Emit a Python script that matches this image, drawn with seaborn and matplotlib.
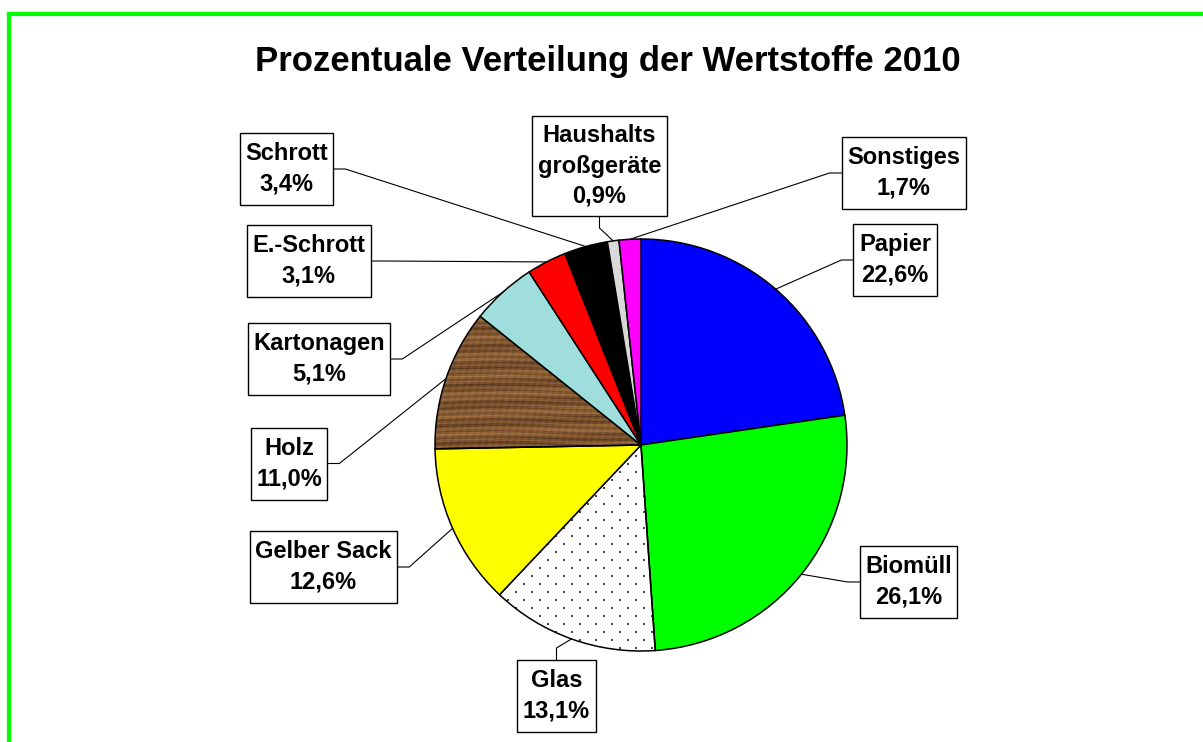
import numpy as np
import matplotlib
matplotlib.use("Agg")
import matplotlib.pyplot as plt
import seaborn as sns
from matplotlib.path import Path

# ---------------- data ----------------
title = "Prozentuale Verteilung der Wertstoffe 2010"
categories = ["Papier", "Biomüll", "Glas", "Gelber Sack", "Holz", "Kartonagen",
              "E.-Schrott", "Schrott", "Haushalts\ngroßgeräte", "Sonstiges"]
shares = [22.6, 26.1, 13.1, 12.6, 11.0, 5.1, 3.1, 3.4, 0.9, 1.7]
value_labels = ["22,6%", "26,1%", "13,1%", "12,6%", "11,0%", "5,1%",
                "3,1%", "3,4%", "0,9%", "1,7%"]
colors = ["#0000FF", "#00FF00", "#FFFFFF", "#FFFF00", "#8B5A2B", "#A0DEDE",
          "#FF0000", "#000000", "#D9D9D9", "#FF00FF"]

# label box layout (pixel positions, top-left origin) and leader side
box_x = [895, 908.5, 556.5, 323.5, 289, 319, 308.5, 286.5, 599.5, 903.5]
box_y = [260, 582, 696, 567, 463.5, 359, 261, 169, 166, 173]
sides = ["left", "left", "top", "right", "right", "right", "right", "right", "bottom", "left"]

W, H = 1203, 742
sns.set_theme(style="white")
plt.rcParams["font.family"] = ["Liberation Sans", "DejaVu Sans"]
plt.rcParams["text.color"] = "black"

fig = plt.figure(figsize=(W / 100, H / 100), dpi=100)
ax = fig.add_axes([0, 0, 1, 1])

cx, cy, R = 641, H - 445, 206
wedges, _ = ax.pie(shares, colors=colors, startangle=90, counterclock=False,
                   center=(cx, cy), radius=R,
                   wedgeprops=dict(edgecolor="black", linewidth=1.1))

n_px = 2 * R
yy, xx = np.mgrid[0:n_px, 0:n_px]

# Glas: dotted pattern (image clipped to the wedge)
glas = wedges[2]
glas.set_facecolor("none")
row = (yy // 8)
dots = ((yy % 8) < 2) & (((xx + (row % 2) * 8) % 16) < 2)
dot_img = np.ones((n_px, n_px, 3))
dot_img[dots] = np.array([70, 70, 70]) / 255
im_g = ax.imshow(dot_img, extent=(cx - R, cx + R, cy - R, cy + R), zorder=0.9,
                 interpolation="nearest", origin="upper")
im_g.set_clip_path(glas)

# Holz: wood-like grain texture clipped to the wedge
holz = wedges[4]
holz.set_facecolor("none")
yf, xf = yy.astype(float), xx.astype(float)
g = (0.5 + 0.20 * np.sin(yf * 1.1 + 1.8 * np.sin(xf * 0.027) + 0.6 * np.sin(yf * 0.05))
     + 0.15 * np.sin(yf * 0.33 + xf * 0.012)
     + 0.10 * np.sin(yf * 2.7 + xf * 0.07 + np.sin(xf * 0.11))
     + 0.06 * np.sin(xf * 0.9 + yf * 0.2))
g = np.clip(g, 0, 1)
dark = np.array([85, 52, 28]) / 255
light = np.array([170, 120, 70]) / 255
img = dark + (light - dark) * g[..., None]
im = ax.imshow(img, extent=(cx - R, cx + R, cy - R, cy + R), zorder=0.9,
               interpolation="bilinear", origin="upper")
im.set_clip_path(holz)

ax.set_xlim(0, W)
ax.set_ylim(0, H)
ax.set_aspect("auto")
ax.axis("off")

# title
ax.text(608, H - 61, title, ha="center", va="center", fontsize=25,
        fontweight="bold", color="black")


def make_box(n):
    def box(x0, y0, width, height, mutation_size):
        padx = 5.5
        target = 28 * n + 16
        pady = (target - height) / 2
        x0 -= padx
        y0 -= pady
        width += 2 * padx
        height += 2 * pady
        return Path([(x0, y0), (x0 + width, y0), (x0 + width, y0 + height),
                     (x0, y0 + height), (x0, y0)], closed=True)
    return box


texts = []
for cat, val, bx, by in zip(categories, value_labels, box_x, box_y):
    s = f"{cat}\n{val}"
    n = s.count("\n") + 1
    t = ax.text(bx, H - by, s, ha="center", va="center", fontsize=17,
                fontweight="bold", linespacing=1.4, multialignment="center",
                color="black", zorder=5,
                bbox=dict(boxstyle=make_box(n), fc="white", ec="black", lw=1.0))
    texts.append(t)

fig.canvas.draw()
renderer = fig.canvas.get_renderer()
stub = 12
for t, w, side in zip(texts, wedges, sides):
    ext = t.get_bbox_patch().get_window_extent(renderer)
    x0, y0, x1, y1 = ext.x0, ext.y0, ext.x1, ext.y1
    xm, ym = (x0 + x1) / 2, (y0 + y1) / 2
    if side == "left":
        p0, p1 = (x0, ym), (x0 - stub, ym)
    elif side == "right":
        p0, p1 = (x1, ym), (x1 + stub, ym)
    elif side == "top":
        p0, p1 = (xm, y1), (xm, y1 + stub)
    else:
        p0, p1 = (xm, y0), (xm, y0 - stub)
    ang = np.deg2rad((w.theta1 + w.theta2) / 2)
    p2 = (cx + R * np.cos(ang), cy + R * np.sin(ang))
    ax.plot([p0[0], p1[0], p2[0]], [p0[1], p1[1], p2[1]], color="black",
            lw=0.8, zorder=4, solid_joinstyle="miter")

# green frame (open at right and bottom)
ax.plot([9, 9], [-20, H - 14], color="#00FF00", lw=3, clip_on=False,
        solid_capstyle="projecting", zorder=6)
ax.plot([9, W + 20], [H - 14, H - 14], color="#00FF00", lw=3, clip_on=False,
        solid_capstyle="projecting", zorder=6)

fig.savefig("out.png", dpi=100)
